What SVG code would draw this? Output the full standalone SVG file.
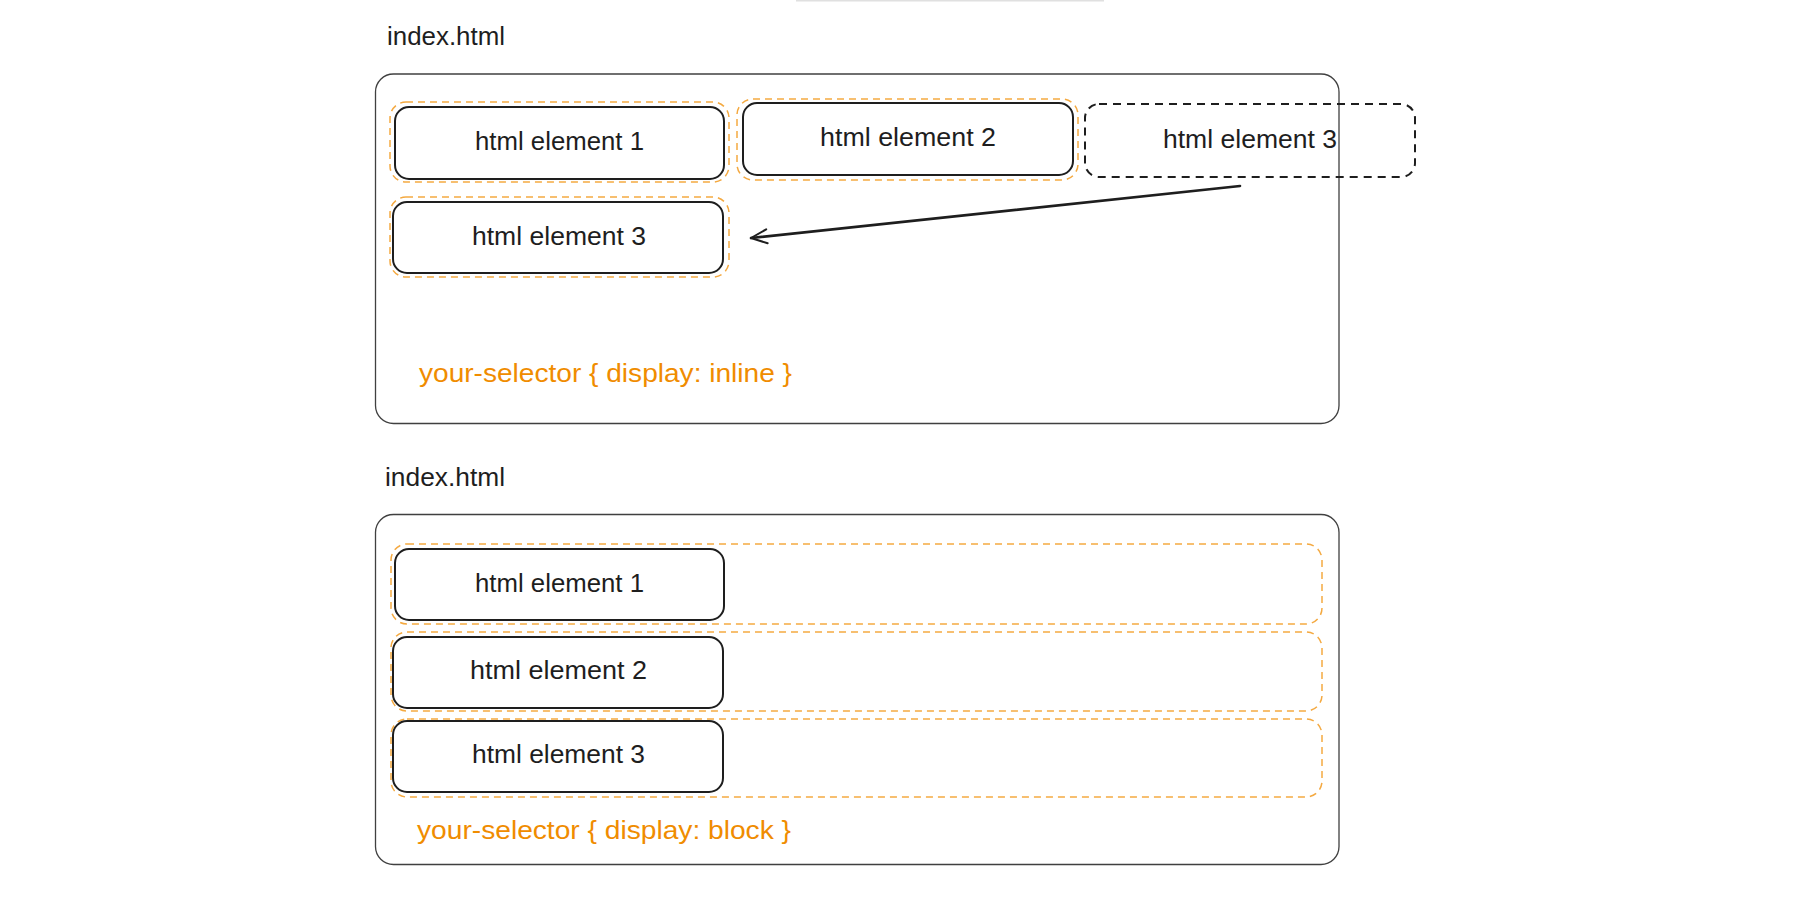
<svg xmlns="http://www.w3.org/2000/svg" width="1816" height="909" viewBox="0 0 1816 909">
<style>
  .bg { fill: #ffffff; }
  .frame { fill: none; stroke: #1e1e1e; stroke-width: 1.3; stroke-opacity: 0.85; }
  .el { fill: none; stroke: #1e1e1e; stroke-width: 2; }
  .ghost { fill: none; stroke: #1e1e1e; stroke-width: 2; stroke-dasharray: 8 6; }
  .wrap { fill: none; stroke: #f08c00; stroke-width: 1.5; stroke-dasharray: 7 5; stroke-opacity: 0.75; }
  .t { font-family: "Liberation Sans", Arial, sans-serif; font-size: 26px; fill: #1e1e1e; }
  .mid { text-anchor: middle; }
  .css { font-family: "Liberation Sans", Arial, sans-serif; font-size: 26px; fill: #f08c00; }
  .arrow { fill: none; stroke: #1e1e1e; stroke-width: 2.6; stroke-linecap: round; stroke-linejoin: round; }
</style>
<defs>
  <marker id="ah" viewBox="0 0 20 20" refX="18" refY="10" markerWidth="20" markerHeight="20" markerUnits="userSpaceOnUse" orient="auto">
    <path d="M2 3 L18 10 L2 17" fill="none" stroke="#1e1e1e" stroke-width="2" stroke-linecap="round" stroke-linejoin="round"/>
  </marker>
</defs>
<rect class="bg" x="0" y="0" width="1816" height="909"/>
<rect x="796" y="0" width="308" height="1.5" fill="#e0e0e0"/>

<!-- Section 1: inline -->
<g id="title-inline">
  <text class="t" x="387" y="45" textLength="118" lengthAdjust="spacingAndGlyphs">index.html</text>
</g>
<g id="frame-inline">
  <rect class="frame" x="375.5" y="74" width="963.5" height="349.5" rx="18" ry="18"/>
</g>
<g id="inline-el1">
  <rect class="wrap" x="390" y="102" width="339" height="80" rx="16" ry="16"/>
  <rect class="el" x="395" y="107" width="329" height="72" rx="14" ry="14"/>
  <text class="t mid" x="559.5" y="150" textLength="169" lengthAdjust="spacingAndGlyphs">html element 1</text>
</g>
<g id="inline-el2">
  <rect class="wrap" x="737" y="99" width="341" height="81" rx="16" ry="16"/>
  <rect class="el" x="743" y="103" width="330" height="72" rx="14" ry="14"/>
  <text class="t mid" x="908" y="146" textLength="176" lengthAdjust="spacingAndGlyphs">html element 2</text>
</g>
<g id="inline-el3-ghost">
  <rect class="ghost" x="1085" y="104" width="330" height="73" rx="14" ry="14"/>
  <text class="t mid" x="1250" y="148" textLength="174" lengthAdjust="spacingAndGlyphs">html element 3</text>
</g>
<g id="inline-el3">
  <rect class="wrap" x="390" y="197" width="339" height="80" rx="16" ry="16"/>
  <rect class="el" x="393" y="202" width="330" height="71" rx="14" ry="14"/>
  <text class="t mid" x="559" y="245" textLength="174" lengthAdjust="spacingAndGlyphs">html element 3</text>
</g>
<g id="css-inline">
  <text class="css" x="419" y="382" textLength="373" lengthAdjust="spacingAndGlyphs">your-selector { display: inline }</text>
</g>

<g id="connectors">
  <path class="arrow" d="M1240 186 L751 238" marker-end="url(#ah)"/>
</g>

<!-- Section 2: block -->
<g id="title-block">
  <text class="t" x="385" y="486" textLength="120" lengthAdjust="spacingAndGlyphs">index.html</text>
</g>
<g id="frame-block">
  <rect class="frame" x="375.5" y="514.5" width="963.5" height="350" rx="18" ry="18"/>
</g>
<g id="block-el1">
  <rect class="wrap" x="391" y="544" width="931" height="80" rx="16" ry="16"/>
  <rect class="el" x="395" y="549" width="329" height="71" rx="14" ry="14"/>
  <text class="t mid" x="559.5" y="592" textLength="169" lengthAdjust="spacingAndGlyphs">html element 1</text>
</g>
<g id="block-el2">
  <rect class="wrap" x="391" y="632" width="931" height="79" rx="16" ry="16"/>
  <rect class="el" x="393" y="637" width="330" height="71" rx="14" ry="14"/>
  <text class="t mid" x="558.5" y="679" textLength="177" lengthAdjust="spacingAndGlyphs">html element 2</text>
</g>
<g id="block-el3">
  <rect class="wrap" x="391" y="719" width="931" height="78" rx="16" ry="16"/>
  <rect class="el" x="393" y="721" width="330" height="71" rx="14" ry="14"/>
  <text class="t mid" x="558.5" y="763" textLength="173" lengthAdjust="spacingAndGlyphs">html element 3</text>
</g>
<g id="css-block">
  <text class="css" x="417" y="839" textLength="374" lengthAdjust="spacingAndGlyphs">your-selector { display: block }</text>
</g>
</svg>
